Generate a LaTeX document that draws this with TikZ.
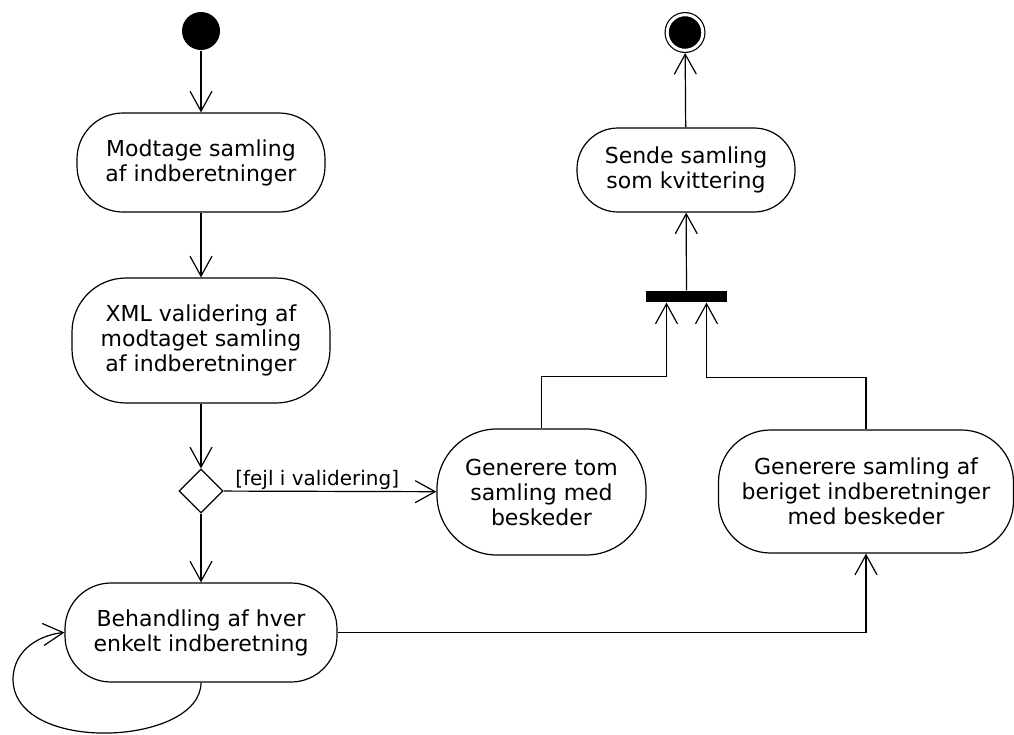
\documentclass[tikz,border=0pt]{standalone}
\usepackage{fontspec}
\setmainfont{DejaVu Sans}
\usetikzlibrary{arrows.meta,shapes.geometric}

\begin{document}
\begin{tikzpicture}[x=1pt,y=-1pt,line width=1.2pt,
	act/.style={draw,rectangle,rounded corners=45pt,align=center,inner sep=0pt,
		font=\fontsize{22}{25}\selectfont},
	>={Straight Barb[length=20pt,width=22pt]}]
		\useasboundingbox (0,0) rectangle (1014,734);
		\node (S) at (201,31) [circle,fill,minimum size=38pt,inner sep=0pt] {};
		\node (A) at (201,162.5) [act,rounded corners=46pt,minimum width=248pt,minimum height=99pt] {Modtage samling\\af indberetninger};
		\node (B) at (201,340.5) [act,rounded corners=54pt,minimum width=258pt,minimum height=125pt] {XML validering af\\modtaget samling\\af indberetninger};
		\node (D) at (201,491) [diamond,draw,minimum size=44pt,inner sep=0pt] {};
		\node (C) at (201,632.5) [act,rounded corners=46pt,minimum width=272pt,minimum height=99pt] {Behandling af hver\\enkelt indberetning};
		\node (E) at (541.5,492) [act,rounded corners=60pt,minimum width=209pt,minimum height=126pt] {Generere tom\\samling med\\beskeder};
		\node (F) at (866,491.5) [act,rounded corners=52pt,minimum width=295pt,minimum height=123pt] {Generere samling af\\beriget indberetninger\\med beskeder};
		\node (J) at (686.5,296.5) [fill,minimum width=81pt,minimum height=11pt,inner sep=0pt] {};
		\node (G) at (686,170) [act,rounded corners=41pt,minimum width=218pt,minimum height=84pt] {Sende samling\\som kvittering};
		\node (T) at (685,32.5) [circle,fill,draw,double=white,double distance=3pt,
			minimum size=35.6pt,inner sep=0pt,outer sep=2.7pt] {};
		\coordinate (L) at (13,680);
		%
		\path[->]
		% main flow
		(S) edge (A)
		(A) edge (B)
		(B) edge (D)
		(D) edge (C)
		(D) edge node[above,pos=0.44,inner sep=1pt,font=\fontsize{20}{24}\selectfont]{[fejl i validering]} (E)
		% join and end
		(J) edge (G)
		(G) edge (T);
		\draw[->] (E.north) -- ++(0,-52) -| ([xshift=-20pt]J.south);
		\draw[->] (F.north) -- ++(0,-52) -| ([xshift=20pt]J.south);
		\draw[->] (C.east) -| (F.south);
		% loop
		\draw[->] (C.south) .. controls +(0,63) and +(2,75) .. (L)
			.. controls +(0,-32) and +(-22,2) .. (C.west);
\end{tikzpicture}
\end{document}
